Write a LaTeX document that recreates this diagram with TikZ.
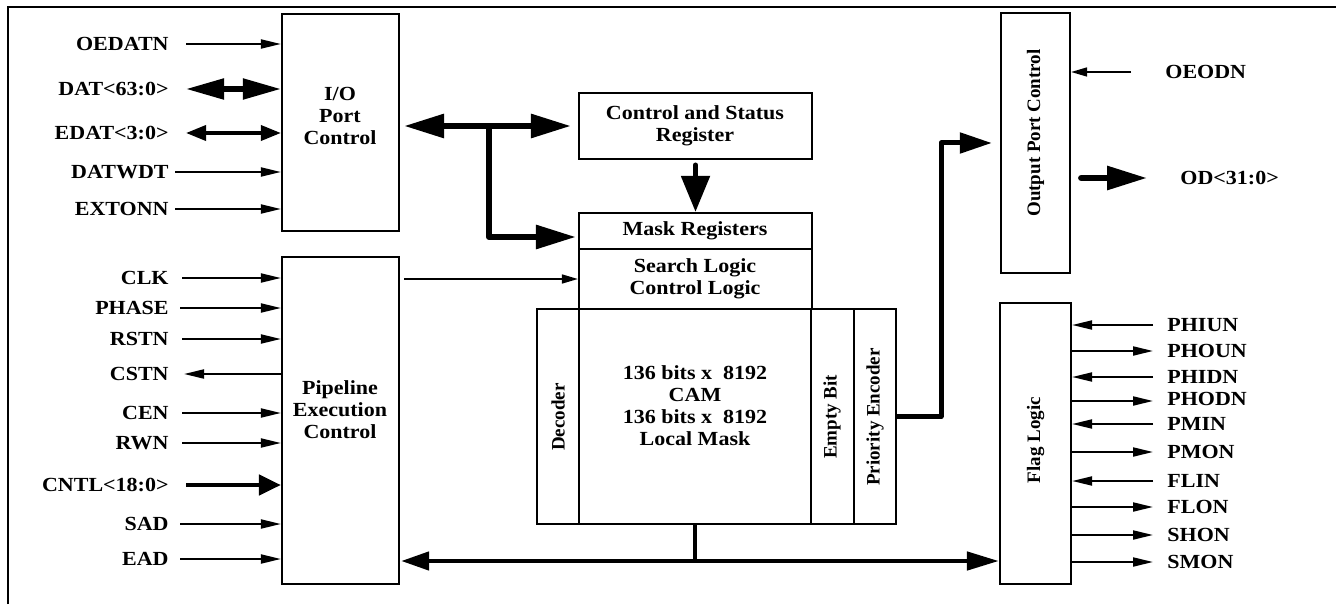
\documentclass[tikz,border=0pt]{standalone}
\usepackage{fontspec}
\setmainfont{Liberation Serif}
\newfontfamily\hfont{Liberation Serif}[FakeStretch=1.1]
\usetikzlibrary{arrows.meta,fit,calc}
\begin{document}
\begin{tikzpicture}[x=0.5pt,y=-0.5pt,
  box/.style={draw, line width=1.1pt, inner sep=0pt},
  lbl/.style={font={\hfont\fontsize{10}{11}\selectfont\bfseries}, inner sep=0pt, align=center},
  rlbl/.style={font={\fontsize{9.5}{11}\selectfont\bfseries}, inner sep=0pt, rotate=90},
  frame/.style={line width=1.25pt},
  sig/.style={line width=1pt, -{Triangle[length=10pt,width=4.5pt]}},
  thinsig/.style={line width=0.8pt, -{Triangle[length=8pt,width=4.5pt]}},
  datbus/.style={line width=2.6pt, {Triangle[length=19pt,width=10pt]}-{Triangle[length=19pt,width=10pt]}},
  edatbus/.style={line width=1.8pt, {Triangle[length=10pt,width=7.5pt]}-{Triangle[length=10pt,width=7.5pt]}},
  cntlbus/.style={line width=2.3pt, -{Triangle[length=11pt,width=10pt]}},
  iobusdbl/.style={line width=3pt, {Triangle[length=20pt,width=11.5pt]}-{Triangle[length=20pt,width=11.5pt]}},
  iobusone/.style={line width=3pt, line join=round, -{Triangle[length=20pt,width=11.5pt]}},
  csrbus/.style={line width=2.6pt, line cap=round, -{Triangle[length=18pt,width=14pt]}},
  prbus/.style={line width=2.5pt, line join=round, -{Triangle[length=16pt,width=10pt]}},
  odbus/.style={line width=3pt, line cap=round, -{Triangle[length=20pt,width=11.5pt]}},
  botbus/.style={line width=2.3pt, {Triangle[length=14pt,width=9pt]}-{Triangle[length=16pt,width=9pt]}},
  stub/.style={line width=2pt}
]
\useasboundingbox (0,0) rectangle (1336,604);
% frame
\draw[frame] (8,604) -- (8,7) -- (1336,7);

% boxes
\node[box, fit={(282,14) (399,231)}] (io) {};
\node[box, fit={(282,257) (399,584)}] (pipe) {};
\node[box, fit={(579,93) (812,159)}] (csr) {};
\node[box, fit={(579,213) (812,249)}] (mask) {};
\node[box, fit={(579,249) (812,309)}] (search) {};
\node[box, fit={(537,309) (579,524)}] (dec) {};
\node[box, fit={(579,309) (811,524)}] (cam) {};
\node[box, fit={(811,309) (854,524)}] (empty) {};
\node[box, fit={(854,309) (896,524)}] (prio) {};
\node[box, fit={(1001,13) (1070,273)}] (opc) {};
\node[box, fit={(1000,303) (1071,584)}] (flag) {};

% box texts
\node[lbl] (iot) at (340,116) {I/O\\Port\\Control};
\node[lbl] (pipet) at (340,410) {Pipeline\\Execution\\Control};
\node[lbl] (csrt) at (695,126) {Control and Status\\Register};
\node[lbl] (maskt) at (695,231) {Mask Registers};
\node[lbl] (searcht) at (695,279) {Search Logic\\Control Logic};
\node[lbl] (camt) at (695,406) {136 bits x\ \ 8192\\CAM\\136 bits x\ \ 8192\\Local Mask};
\node[rlbl] (dect) at (558,417) {Decoder};
\node[rlbl] (emptyt) at (832,417) {Empty Bit};
\node[rlbl] (priot) at (875,417) {Priority Encoder};
\node[rlbl] (opct) at (1035.5,133) {Output Port Control};
\node[rlbl] (flagt) at (1035.5,440) {Flag Logic};

% I/O port signals
\node[lbl, anchor=east] (oedatn) at (169,44) {OEDATN};
\node[lbl, anchor=east] (dat) at (169,89) {DAT<63:0>};
\node[lbl, anchor=east] (edat) at (169,133) {EDAT<3:0>};
\node[lbl, anchor=east] (datwdt) at (169,172) {DATWDT};
\node[lbl, anchor=east] (extonn) at (169,209) {EXTONN};
\draw[sig] ([xshift=8.5pt]oedatn.east) -- (io.west |- oedatn.east);
\draw[datbus] ([xshift=8.5pt]dat.east) -- (io.west |- dat.east);
\draw[edatbus] ([xshift=8.5pt]edat.east) -- (io.west |- edat.east);
\draw[sig] ([xshift=3pt]datwdt.east) -- (io.west |- datwdt.east);
\draw[sig] ([xshift=3pt]extonn.east) -- (io.west |- extonn.east);

% pipeline signals
\node[lbl, anchor=east] (clk) at (169,278) {CLK};
\node[lbl, anchor=east] (phase) at (169,308) {PHASE};
\node[lbl, anchor=east] (rstn) at (169,339) {RSTN};
\node[lbl, anchor=east] (cstn) at (169,374) {CSTN};
\node[lbl, anchor=east] (cen) at (169,413) {CEN};
\node[lbl, anchor=east] (rwn) at (169,443) {RWN};
\node[lbl, anchor=east] (cntl) at (169,485) {CNTL<18:0>};
\node[lbl, anchor=east] (sad) at (169,524) {SAD};
\node[lbl, anchor=east] (ead) at (169,559) {EAD};
\draw[sig] ([xshift=6.5pt]clk.east) -- (pipe.west |- clk.east);
\draw[sig] ([xshift=5.5pt]phase.east) -- (pipe.west |- phase.east);
\draw[sig] ([xshift=6.5pt]rstn.east) -- (pipe.west |- rstn.east);
\draw[sig] (pipe.west |- cstn.east) -- ([xshift=7.5pt]cstn.east);
\draw[sig] ([xshift=6.5pt]cen.east) -- (pipe.west |- cen.east);
\draw[sig] ([xshift=6.5pt]rwn.east) -- (pipe.west |- rwn.east);
\draw[cntlbus] ([xshift=8.5pt]cntl.east) -- (pipe.west |- cntl.east);
\draw[sig] ([xshift=5.5pt]sad.east) -- (pipe.west |- sad.east);
\draw[sig] ([xshift=5.5pt]ead.east) -- (pipe.west |- ead.east);

% internal buses
\coordinate (bj) at ($(io.east |- csr.west)!0.5!(csr.west)$);
\draw[iobusdbl] ([xshift=2pt]io.east |- csr.west) -- ([xshift=-3.5pt]csr.west);
\draw[iobusone] (bj) |- ([xshift=-1pt,yshift=-3pt]mask.west);
\draw[csrbus] ([yshift=-2.5pt]csr.south) -- (mask.north);
\draw[thinsig] ([xshift=2pt]pipe.east |- search.west) -- (search.west);
\draw[prbus] (prio.east) -- ++(22pt,0) |- ([xshift=-4pt]opc.west);
\coordinate (busj) at (695,561);
\draw[stub] (cam.south) -- (busj);
\draw[botbus] ([xshift=0.5pt]pipe.east |- busj) -- (flag.west |- busj);

% output port signals
\node[lbl, anchor=west] (oeodn) at (1165,72) {OEODN};
\node[lbl, anchor=west] (od) at (1180,178) {OD<31:0>};
\draw[thinsig] ([xshift=-17pt]oeodn.west) -- (opc.east |- oeodn.west);
\draw[odbus] ([xshift=5pt]opc.east |- od.west) -- ([xshift=-16.5pt]od.west);

% flag signals
\node[lbl, anchor=west] (phiun) at (1167,325) {PHIUN};
\node[lbl, anchor=west] (phoun) at (1167,351) {PHOUN};
\node[lbl, anchor=west] (phidn) at (1167,377) {PHIDN};
\node[lbl, anchor=west] (phodn) at (1167,399) {PHODN};
\node[lbl, anchor=west] (pmin) at (1167,424) {PMIN};
\node[lbl, anchor=west] (pmon) at (1167,452) {PMON};
\node[lbl, anchor=west] (flin) at (1167,481) {FLIN};
\node[lbl, anchor=west] (flon) at (1167,507) {FLON};
\node[lbl, anchor=west] (shon) at (1167,535) {SHON};
\node[lbl, anchor=west] (smon) at (1167,562) {SMON};
\draw[sig] ([xshift=-7pt]phiun.west) -- (flag.east |- phiun.west);
\draw[sig] (flag.east |- phoun.west) -- ([xshift=-7pt]phoun.west);
\draw[sig] ([xshift=-7pt]phidn.west) -- (flag.east |- phidn.west);
\draw[sig] (flag.east |- 0,401) -- ([xshift=-7pt]phodn.west |- 0,401);
\draw[sig] ([xshift=-7pt]pmin.west) -- (flag.east |- pmin.west);
\draw[sig] (flag.east |- pmon.west) -- ([xshift=-7pt]pmon.west);
\draw[sig] ([xshift=-7pt]flin.west) -- (flag.east |- flin.west);
\draw[sig] (flag.east |- flon.west) -- ([xshift=-7pt]flon.west);
\draw[sig] (flag.east |- shon.west) -- ([xshift=-7pt]shon.west);
\draw[sig] (flag.east |- smon.west) -- ([xshift=-7pt]smon.west);
\end{tikzpicture}
\end{document}
